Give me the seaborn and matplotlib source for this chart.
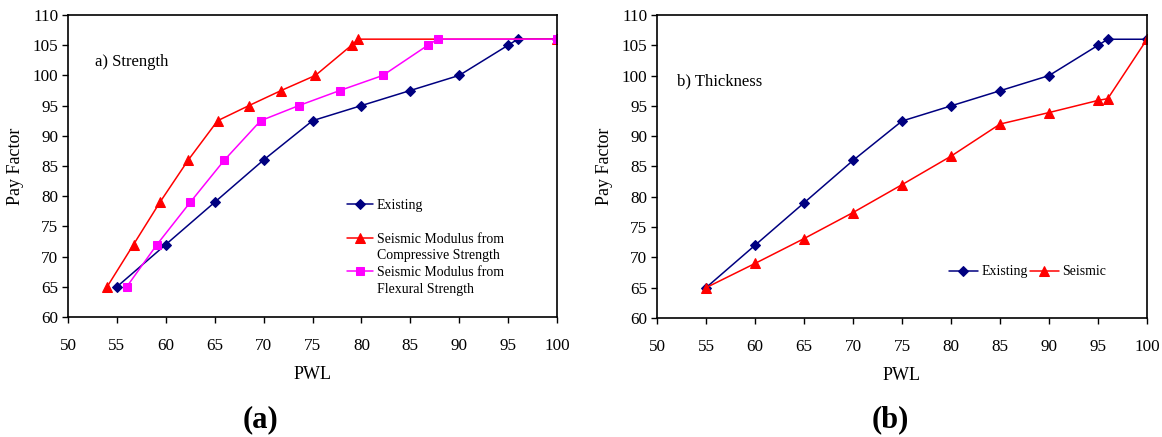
import matplotlib
matplotlib.use("Agg")
import matplotlib.pyplot as plt
from matplotlib.lines import Line2D
import seaborn as sns

sns.set_theme(style="white")
plt.rcParams['font.family'] = ['Liberation Serif', 'DejaVu Serif']
plt.rcParams['text.color'] = 'black'
plt.rcParams['axes.labelcolor'] = 'black'
plt.rcParams['xtick.color'] = 'black'
plt.rcParams['ytick.color'] = 'black'

# Panel (a) Strength
a_exist_x = [55, 60, 65, 70, 75, 80, 85, 90, 95, 96, 100]
a_exist_y = [65, 72, 79, 86, 92.5, 95, 97.5, 100, 105, 106, 106]
a_comp_x = [54.0, 56.7, 59.4, 62.3, 65.3, 68.5, 71.8, 75.3, 79.0, 79.7, 100]
a_comp_y = [65, 72, 79, 86, 92.5, 95, 97.5, 100, 105, 106, 106]
a_flex_x = [56.0, 59.1, 62.5, 66.0, 69.7, 73.6, 77.8, 82.2, 86.8, 87.8, 100]
a_flex_y = [65, 72, 79, 86, 92.5, 95, 97.5, 100, 105, 106, 106]

# Panel (b) Thickness
b_x = [55, 60, 65, 70, 75, 80, 85, 90, 95, 96, 100]
b_exist_y = [65, 72, 79, 86, 92.5, 95, 97.5, 100, 105, 106, 106]
b_seis_y = [65, 69, 73.1, 77.4, 82, 86.7, 92, 93.9, 95.9, 96.2, 106]

x_ticks = [50, 55, 60, 65, 70, 75, 80, 85, 90, 95, 100]
y_ticks = [60, 65, 70, 75, 80, 85, 90, 95, 100, 105, 110]

navy = '#000080'
red = '#FF0000'
magenta = '#FF00FF'

fig = plt.figure(figsize=(11.62, 4.37), dpi=100)
W, H = 1162, 437
ax1 = fig.add_axes([68/W, 1-317/H, (557-68)/W, (317-15)/H])
ax2 = fig.add_axes([657/W, 1-318/H, (1147-657)/W, (318-15)/H])

def style(ax):
    ax.set_xlim(50, 100)
    ax.set_ylim(60, 110)
    ax.set_xticks(x_ticks)
    ax.set_yticks(y_ticks)
    ax.tick_params(axis='both', which='major', direction='out', length=4, width=1,
                   color='black', labelsize=12.3, bottom=True, left=True, pad=3)
    ax.tick_params(axis='x', pad=11)
    for s in ax.spines.values():
        s.set_color('black')
        s.set_linewidth(1.2)
    ax.set_xlabel('PWL', fontsize=13, labelpad=9)
    ax.set_ylabel('Pay Factor', fontsize=13, labelpad=6)
    ax.grid(False)
    ax.set_facecolor('white')

lw = 1.1
ms = 5.5
sns.lineplot(x=a_exist_x, y=a_exist_y, ax=ax1, color=navy, marker='D', markersize=ms-0.5,
             markeredgecolor=navy, linewidth=lw, label='Existing', sort=False)
sns.lineplot(x=a_comp_x, y=a_comp_y, ax=ax1, color=red, marker='^', markersize=ms+1,
             markeredgecolor=red, linewidth=lw,
             label='Seismic Modulus from Compressive Strength', sort=False)
sns.lineplot(x=a_flex_x, y=a_flex_y, ax=ax1, color=magenta, marker='s', markersize=ms+0.5,
             markeredgecolor=magenta, linewidth=lw,
             label='Seismic Modulus from Flexural Strength', sort=False)
style(ax1)
ax1.text(52.8, 102.3, 'a) Strength', fontsize=12, va='center', ha='left')

h, _ = ax1.get_legend_handles_labels()
blank = Line2D([], [], color='none', marker=None)
leg_handles = [h[0], blank, h[1], blank, h[2], blank]
leg_labels = ['Existing', ' ', 'Seismic Modulus from', 'Compressive Strength',
              'Seismic Modulus from', 'Flexural Strength']
ax1.legend(leg_handles, leg_labels, loc='upper left', bbox_to_anchor=(0.5706, 0.390),
           frameon=False, fontsize=10, handlelength=1.9, handletextpad=0.25,
           labelspacing=0.27, borderpad=0, borderaxespad=0)

sns.lineplot(x=b_x, y=b_exist_y, ax=ax2, color=navy, marker='D', markersize=ms-0.5,
             markeredgecolor=navy, linewidth=lw, label='Existing', sort=False)
sns.lineplot(x=b_x, y=b_seis_y, ax=ax2, color=red, marker='^', markersize=ms+1,
             markeredgecolor=red, linewidth=lw, label='Seismic', sort=False)
style(ax2)
ax2.text(52.0, 99.0, 'b) Thickness', fontsize=12, va='center', ha='left')
ax2.legend(loc='center left', bbox_to_anchor=(0.595, 0.152), frameon=False, fontsize=10,
           ncol=2, handlelength=2.1, handletextpad=0.25, columnspacing=0.15,
           borderpad=0, borderaxespad=0)

fig.text(260/W, 1-420/H, '(a)', fontsize=22, fontweight='bold', ha='center', va='center')
fig.text(890/W, 1-420/H, '(b)', fontsize=22, fontweight='bold', ha='center', va='center')

fig.savefig('out.png', dpi=100, facecolor='white')
